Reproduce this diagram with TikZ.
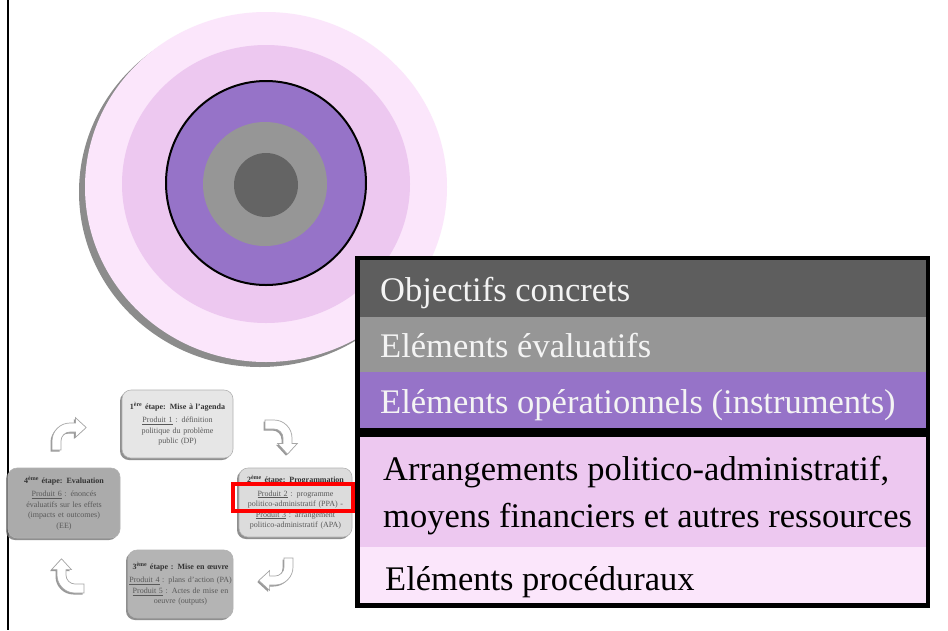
\documentclass[tikz,border=0pt]{standalone}
\usepackage{fontspec}
\setmainfont{Liberation Serif}
\usetikzlibrary{shadows}
\definecolor{pinkA}{HTML}{FBE6FB}
\definecolor{pinkB}{HTML}{EDC8F0}
\definecolor{purp}{HTML}{9673C8}
\definecolor{grayM}{HTML}{969696}
\definecolor{grayD}{HTML}{646464}
\definecolor{rowD}{HTML}{5E5E5E}
\definecolor{shad}{HTML}{8C8C8C}
\definecolor{boxA}{HTML}{E6E6E6}
\definecolor{boxB}{HTML}{DCDCDC}
\definecolor{boxC}{HTML}{B4B4B4}
\definecolor{boxD}{HTML}{ABABAB}
\definecolor{txtL}{HTML}{F4F4F4}
\newcommand\bentarrow[2]{%
  \begin{scope}[shift={#1}, xshift=-1.5pt, yshift=-1.5pt, x=0.9pt, y=0.9pt, rotate=#2]
    \fill[black!40] (0,0) -- (0,10) arc[start angle=180, end angle=90, radius=20] -- (26,30) -- (26,36) -- (38,25) -- (26,14) -- (26,20) -- (20,20) arc[start angle=90, end angle=180, radius=10] -- (10,0) -- cycle;
  \end{scope}
  \begin{scope}[shift={#1}, x=0.9pt, y=0.9pt, rotate=#2]
    \filldraw[fill=white, draw=black!35, line width=0.7pt] (0,0) -- (0,10) arc[start angle=180, end angle=90, radius=20] -- (26,30) -- (26,36) -- (38,25) -- (26,14) -- (26,20) -- (20,20) arc[start angle=90, end angle=180, radius=10] -- (10,0) -- cycle;
  \end{scope}}
\begin{document}
\begin{tikzpicture}[x=1pt,y=-1pt,
  stepbox/.style={rounded corners=9pt, draw=black!30, line width=0.6pt, align=center, inner sep=1pt,
    font=\fontsize{8}{10.5}\selectfont, text=black!65,
    drop shadow={shadow xshift=-2pt, shadow yshift=-2pt, fill=black!55, opacity=0.8}},
  rowtext/.style={anchor=base west, inner sep=0pt, font=\fontsize{34.5}{47}\selectfont}]
\useasboundingbox (0,0) rectangle (948,630);
\fill[white] (0,0) rectangle (948,630);

% left rule
\draw[line width=2pt] (8,0) -- (8,630);

% concentric circles
\fill[shad] (260,192) ellipse [x radius=181, y radius=175];
\fill[pinkA] (266,187) ellipse [x radius=181, y radius=175];
\fill[pinkB] (266,184) ellipse [x radius=144, y radius=139];
\filldraw[fill=purp, draw=black, line width=2pt] (266,183) ellipse [x radius=100, y radius=102];
\fill[grayM] (265,184) circle [radius=62];
\fill[grayD] (266,185) circle [radius=32];

% process boxes
\node[stepbox, fill=boxA, minimum width=111pt, minimum height=68pt, text width=107pt] (e1) at (177.5,424)
  {{\bfseries\color{black!80}1\textsuperscript{ère} étape: Mise à l'agenda}\\[3pt]
   \underline{Produit 1} : définition\\ politique du problème\\ public (DP)};
\node[stepbox, fill=boxB, minimum width=113pt, minimum height=69pt, text width=109pt] (e2) at (295.5,502.5)
  {{\bfseries\color{black!80}2\textsuperscript{ème} étape: Programmation}\\[3pt]
   \underline{Produit 2} : programme\\ politico-administratif (PPA) -\\
   \underline{Produit 3} : arrangement\\ politico-administratif (APA)};
\node[stepbox, fill=boxC, minimum width=105pt, minimum height=68pt, text width=103pt] (e3) at (180.5,584)
  {{\bfseries\color{black!80}3\textsuperscript{ème} étape : Mise en œuvre}\\[3pt]
   \underline{Produit 4} : plans d'action (PA)\\
   \underline{Produit 5} : Actes de mise en\\ oeuvre (outputs)};
\node[stepbox, fill=boxD, minimum width=112pt, minimum height=70pt, text width=108pt] (e4) at (64,503)
  {{\bfseries\color{black!80}4\textsuperscript{ème} étape: Evaluation}\\[3pt]
   \underline{Produit 6} : énoncés\\ évaluatifs sur les effets\\ (impacts et outcomes)\\ (EE)};

% bent block arrows
\bentarrow{(52,450)}{0}
\bentarrow{(265,420)}{-90}
\bentarrow{(293,558)}{180}
\bentarrow{(84,593)}{90}

% red highlight
\draw[red, line width=4pt] (233,484) rectangle (353,511);

% legend table
\fill[black] (355,256) rectangle (930,608);
\fill[rowD] (360,260) rectangle (926,317);
\fill[grayM] (360,317) rectangle (926,372);
\fill[purp] (360,372) rectangle (926,428);
\fill[pinkB] (360,437) rectangle (926,547);
\fill[pinkA] (360,547) rectangle (926,603);

\node[rowtext, text=txtL] (r1) at (380,301) {Objectifs concrets};
\node[rowtext, text=txtL] (r2) at (380,357) {Eléments évaluatifs};
\node[rowtext, text=txtL] (r3) at (380,413) {Eléments opérationnels (instruments)};
\node[rowtext, text=black] (r4a) at (383,480) {Arrangements politico-administratif,};
\node[rowtext, text=black] (r4b) at (383,527) {moyens financiers et autres ressources};
\node[rowtext, text=black] (r5) at (385,590) {Eléments procéduraux};
\end{tikzpicture}
\end{document}
